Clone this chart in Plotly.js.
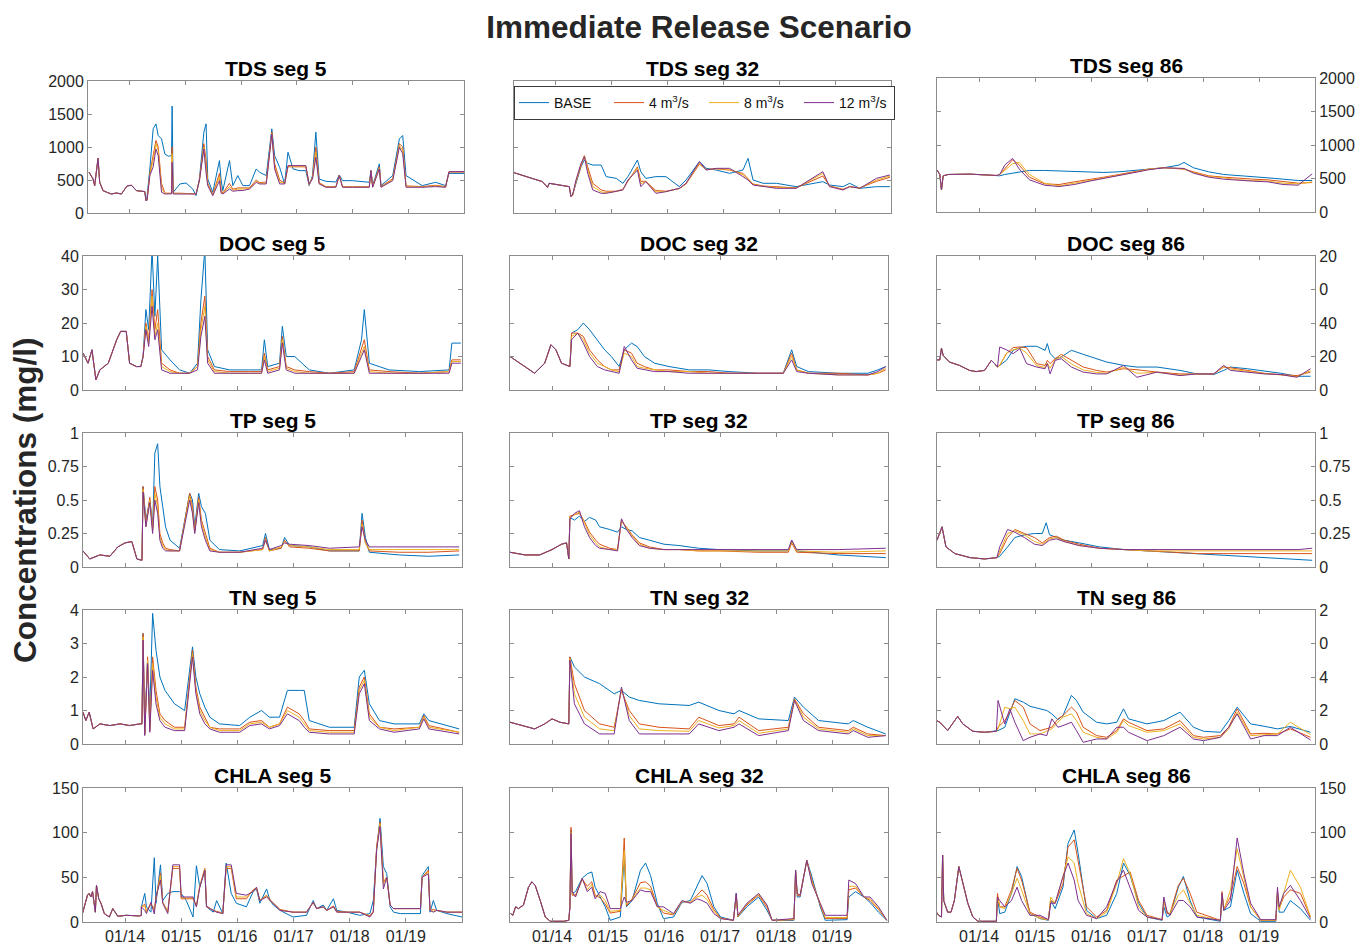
<!DOCTYPE html>
<html><head><meta charset="utf-8">
<script src="https://cdn.plot.ly/plotly-3.0.1.min.js"></script>
<style>html,body{margin:0;padding:0;background:#fff;}#chart{width:1368px;height:947px;}</style>
</head><body><div id="chart"></div>
<script>
// ---------- series names / colours ----------
const seriesNames = ['BASE','4 m<sup>3</sup>/s','8 m<sup>3</sup>/s','12 m<sup>3</sup>/s'];
const seriesColors = ['#0072BD','#D95319','#EDB120','#7E2F8E'];
const xTickVals = [2014,2015,2016,2017,2018,2019];
const xTickText = ['01/14','01/15','01/16','01/17','01/18','01/19'];

// ---------- TDS seg 5 ----------
const tds5_preT = [2013.27,2013.34,2013.37,2013.43,2013.46,2013.52,2013.60,2013.67,2013.76,2013.85,2013.95,2014.03,2014.12,2014.20,2014.27,2014.29];
const tds5_preV = [617,516,415,830,465,339,310,288,303,288,410,420,339,330,324,190];
const tds5_t = [2014.31,2014.36,2014.42,2014.47,2014.51,2014.57,2014.63,2014.69,2014.75,2014.76,2014.78,2014.90,2015.01,2015.13,2015.19,2015.25,2015.33,2015.37,2015.40,2015.49,2015.61,2015.64,2015.67,2015.79,2015.85,2015.94,2016.03,2016.15,2016.27,2016.33,2016.45,2016.55,2016.60,2016.69,2016.78,2016.84,2016.93,2017.04,2017.16,2017.22,2017.28,2017.34,2017.40,2017.52,2017.70,2017.76,2017.82,2018.00,2018.30,2018.33,2018.36,2018.48,2018.51,2018.72,2018.84,2018.90,2018.96,2019.25,2019.49,2019.67,2019.73,2020.00];
const tds5_base = [250,668,1275,1350,1174,1123,895,860,870,1620,314,440,455,364,263,516,1225,1350,516,314,794,500,339,794,415,567,415,415,668,617,567,1275,870,693,440,921,668,642,642,415,567,1225,516,480,470,577,490,490,465,642,415,744,415,567,1123,1174,567,415,465,415,600,600];
const tds5_q4 = [200,600,900,1100,1000,450,300,300,300,1000,300,300,300,300,290,500,1050,800,450,280,600,350,300,450,360,380,380,380,500,460,470,1230,750,500,450,700,700,700,700,430,540,1000,460,400,400,570,400,400,400,640,400,700,400,520,1050,1000,410,400,420,400,620,620];
const tds5_q8 = [195,580,800,1050,950,380,295,295,295,900,295,295,295,295,290,495,1000,700,430,270,550,320,295,400,345,360,360,370,480,450,455,1210,700,470,445,710,710,710,710,435,530,920,450,395,395,568,395,395,395,640,395,680,395,505,1020,950,400,395,410,395,625,625];
const tds5_q12 = [190,567,700,971,870,314,288,290,290,769,288,288,288,288,288,490,971,600,415,263,490,300,288,364,330,339,340,364,465,440,440,1199,668,440,440,718,718,718,718,440,516,845,440,390,390,567,390,390,390,642,390,668,390,490,997,900,390,390,400,390,627,627];

// ---------- TDS seg 32 ----------
const tds32_preT = [2013.25,2013.40,2013.57,2013.76,2013.85,2013.88,2014.06,2014.24,2014.27];
const tds32_preV = [611,576,525,475,389,450,424,399,248];
const tds32_t = [2014.30,2014.36,2014.45,2014.51,2014.57,2014.66,2014.81,2014.90,2015.08,2015.20,2015.29,2015.46,2015.52,2015.61,2015.79,2015.97,2016.21,2016.33,2016.57,2016.69,2016.87,2017.11,2017.35,2017.44,2017.53,2017.71,2017.95,2018.30,2018.78,2018.90,2019.14,2019.26,2019.44,2019.74,2019.98];
const tds32_base = [273,450,702,803,752,727,727,551,525,450,551,803,626,525,551,551,399,500,778,677,651,601,651,828,500,450,450,399,475,424,399,450,374,399,399];
const tds32_q4 = [273,470,720,870,700,450,350,330,330,360,480,700,480,480,340,330,370,440,740,660,670,650,600,520,440,410,400,380,560,410,360,400,380,480,540];
const tds32_q8 = [273,480,740,860,650,400,320,310,325,355,490,680,440,480,320,325,372,445,760,655,672,660,580,510,430,405,387,377,600,405,355,400,377,500,560];
const tds32_q12 = [273,500,752,853,601,349,298,298,323,349,500,651,399,475,298,323,374,450,778,651,677,677,551,500,424,399,374,374,626,399,349,399,374,525,576];

// ---------- TDS seg 86 ----------
const tds86_preT = [2013.25,2013.30,2013.33,2013.36,2013.45,2013.84,2014.19,2014.32];
const tds86_preV = [627,560,330,540,560,565,550,545];
const tds86_t = [2014.37,2014.46,2014.60,2014.72,2014.90,2015.17,2015.43,2015.70,2015.97,2016.23,2016.50,2016.77,2017.03,2017.30,2017.57,2017.66,2017.83,2018.10,2018.37,2018.63,2018.90,2019.16,2019.43,2019.70,2019.95];
const tds86_base = [540,560,580,600,620,620,610,600,590,590,600,620,640,660,700,740,660,600,560,540,520,510,490,470,470];
const tds86_q4 = [560,640,780,700,520,420,410,450,480,520,560,600,640,660,650,640,600,540,520,500,490,480,450,430,440];
const tds86_q8 = [560,620,720,740,560,430,390,430,470,510,550,590,640,660,650,640,590,530,510,480,470,460,430,420,450];
const tds86_q12 = [560,700,800,640,480,400,380,410,460,500,540,580,630,660,660,650,580,520,490,470,460,450,410,400,570];

// ---------- DOC seg 5 ----------
const doc5_preT = [2013.25,2013.34,2013.41,2013.48,2013.55,2013.70,2013.85,2013.92,2014.02,2014.08,2014.20,2014.28];
const doc5_preV = [11,8,12,3,6,8,15,17.5,17.5,8,7,7];
const doc5_t = [2014.32,2014.37,2014.42,2014.48,2014.53,2014.58,2014.65,2014.80,2014.97,2015.15,2015.29,2015.35,2015.42,2015.47,2015.59,2015.86,2016.22,2016.43,2016.48,2016.54,2016.75,2016.80,2016.87,2017.02,2017.28,2017.64,2018.08,2018.21,2018.26,2018.35,2018.70,2019.24,2019.77,2019.82,2019.98];
const doc5_base = [10,24,18,42,22,40,12,9,6,5,8,27,42,12,7,6,6,6,15,7,8,19,10,10,6,5,6,15,24,8,6,5.5,6,14,14];
const doc5_q4 = [10,20,15,30,18,24,8,6,5,5,7,20,28,10,6,5.5,5.5,5.5,11,6,7,16,7,6,5.5,5,5.5,12,15,6,5.5,5,5.5,9,9];
const doc5_q8 = [10,19,14,28,16,20,7,5.5,5,5,7,18,25,9,5.5,5,5,5,10,5.5,6.5,15,6.5,5.5,5,5,5,11,13,5.5,5,5,5.5,8.5,8.5];
const doc5_q12 = [10,18,13,25,15,18,6,5,5,5,6,16,22,8,5,5,5,5,9,5,6,14,6,5,5,5,5,10,12,5,5,5,5,8,8];

// ---------- DOC seg 32 ----------
const doc32_preT = [2013.25,2013.43,2013.69,2013.87,2013.98,2014.07,2014.17,2014.32];
const doc32_preV = [10,8,5,8,13.5,12,8,7];
const doc32_t = [2014.35,2014.46,2014.56,2014.67,2014.81,2014.94,2015.06,2015.20,2015.29,2015.42,2015.52,2015.65,2015.83,2016.09,2016.45,2016.80,2017.16,2017.69,2018.13,2018.28,2018.37,2018.58,2019.11,2019.64,2019.82,2019.96];
const doc32_base = [17,18,20,18,15,12,10,7,12,14,13,10,8,7,6,6,5.5,5,5,12,7,5.5,5,5,6,7];
const doc32_q4 = [17,17,16,12,9,7,6,6,12,11,8,7,6,6,5.5,5.5,5,5,5,11,6,5,5,4.5,5,6];
const doc32_q8 = [16,17,15,11,8,7,6,5.5,11,10,7,6.5,6,5.5,5.5,5,5,5,5,10,6,5,4.5,4.5,5,6.5];
const doc32_q12 = [15,17,14,10,7,6,5.5,5,13,9,6.5,6,5.5,5.5,5,5,5,5,5,9,5.5,5,4.5,4.5,5.5,7];

// ---------- DOC seg 86 ----------
const doc86_preT = [2013.24,2013.30,2013.33,2013.36,2013.47,2013.65,2013.83,2013.95,2014.10,2014.22,2014.28,2014.33];
const doc86_preV = [18,18,25,20.7,16.7,14.7,11.7,11,11.7,17.7,15.7,13.7];
const doc86_t = [2014.37,2014.49,2014.61,2014.73,2014.85,2015.03,2015.18,2015.22,2015.27,2015.36,2015.47,2015.65,2015.86,2016.10,2016.28,2016.58,2016.82,2017.18,2017.59,2017.89,2018.19,2018.37,2018.49,2018.79,2019.09,2019.39,2019.68,2019.92];
const doc86_base = [14.7,17.7,23.7,25.3,26.1,26.1,23.7,27.7,21.7,18.7,19.7,23.7,21.3,18.7,16.7,14.7,13.7,13.7,11.7,9.6,9.2,11.7,13.7,12.7,11.3,10,8.2,8.2];
const doc86_q4 = [14.7,21.7,25.3,25.7,25.3,15.7,14.7,17.7,15.7,18.7,21.3,17.7,13.7,11.7,10.7,12.7,12.1,10.7,9.6,9.6,9.6,13.7,13.3,11.7,10,9.2,8.6,10.7];
const doc86_q8 = [14.7,22,24,25,22,14.5,13.5,16,13,18,20,15.5,12,10.5,10,13.5,10,10.5,9,9.6,9.6,14,12.5,11.2,9.8,9,8,11.5];
const doc86_q12 = [25.7,24,21.7,24.7,15.7,13.7,12.7,15.7,9.6,17.7,18.7,13.7,10.7,9.6,9.6,14.7,7.6,10.7,8.6,9.6,9.6,14.7,11.7,10.7,9.6,9.2,7.6,12.7];

// ---------- TP seg 5 ----------
const tp5_preT = [2013.25,2013.37,2013.55,2013.73,2013.87,2014.00,2014.12,2014.21,2014.30];
const tp5_preV = [0.12,0.06,0.09,0.08,0.15,0.18,0.19,0.06,0.05];
const tp5_t = [2014.32,2014.37,2014.44,2014.49,2014.53,2014.58,2014.62,2014.67,2014.72,2014.80,2014.97,2015.15,2015.20,2015.24,2015.31,2015.36,2015.43,2015.51,2015.68,2016.04,2016.45,2016.50,2016.57,2016.78,2016.84,2016.93,2017.28,2017.64,2018.17,2018.22,2018.28,2018.35,2018.88,2019.41,2019.95];
const tp5_base = [0.6,0.35,0.5,0.3,0.85,0.92,0.6,0.45,0.3,0.2,0.14,0.55,0.5,0.3,0.55,0.45,0.4,0.2,0.13,0.12,0.16,0.25,0.13,0.14,0.22,0.16,0.15,0.12,0.12,0.4,0.22,0.11,0.09,0.08,0.09];
const tp5_q4 = [0.6,0.32,0.52,0.28,0.6,0.5,0.25,0.18,0.14,0.13,0.12,0.55,0.45,0.27,0.52,0.35,0.25,0.14,0.11,0.11,0.13,0.22,0.12,0.14,0.2,0.15,0.14,0.12,0.12,0.35,0.18,0.12,0.11,0.11,0.12];
const tp5_q8 = [0.58,0.3,0.5,0.27,0.55,0.45,0.22,0.16,0.13,0.12,0.12,0.53,0.42,0.26,0.5,0.33,0.22,0.13,0.11,0.11,0.13,0.2,0.12,0.15,0.19,0.16,0.15,0.13,0.13,0.32,0.18,0.13,0.13,0.13,0.13];
const tp5_q12 = [0.56,0.3,0.48,0.25,0.5,0.4,0.2,0.14,0.12,0.12,0.12,0.5,0.4,0.25,0.48,0.3,0.2,0.12,0.11,0.11,0.14,0.2,0.13,0.16,0.18,0.17,0.16,0.14,0.15,0.3,0.2,0.15,0.15,0.15,0.15];

// ---------- TP seg 32 ----------
const tp32_preT = [2013.25,2013.52,2013.78,2014.00,2014.17,2014.26,2014.30];
const tp32_preV = [0.11,0.09,0.09,0.13,0.17,0.18,0.06];
const tp32_t = [2014.32,2014.40,2014.49,2014.58,2014.67,2014.78,2014.85,2015.03,2015.17,2015.24,2015.33,2015.43,2015.56,2015.74,2016.00,2016.27,2016.62,2016.98,2017.69,2018.22,2018.28,2018.37,2019.11,2019.96];
const tp32_base = [0.37,0.35,0.38,0.34,0.37,0.35,0.3,0.28,0.26,0.3,0.28,0.27,0.22,0.2,0.17,0.16,0.14,0.13,0.12,0.12,0.2,0.12,0.09,0.07];
const tp32_q4 = [0.38,0.39,0.4,0.34,0.26,0.2,0.17,0.14,0.13,0.34,0.3,0.24,0.18,0.15,0.13,0.13,0.12,0.12,0.11,0.11,0.18,0.11,0.1,0.1];
const tp32_q8 = [0.37,0.39,0.41,0.33,0.24,0.18,0.15,0.13,0.13,0.35,0.29,0.23,0.17,0.14,0.13,0.13,0.12,0.12,0.12,0.12,0.19,0.12,0.11,0.12];
const tp32_q12 = [0.36,0.4,0.42,0.3,0.22,0.16,0.14,0.13,0.12,0.36,0.28,0.22,0.16,0.14,0.13,0.13,0.13,0.13,0.13,0.13,0.2,0.13,0.13,0.14];

// ---------- TP seg 86 ----------
const tp86_preT = [2013.25,2013.30,2013.34,2013.41,2013.57,2013.84,2014.10,2014.32];
const tp86_preV = [0.2,0.25,0.3,0.15,0.1,0.07,0.06,0.07];
const tp86_t = [2014.37,2014.51,2014.64,2014.81,2014.99,2015.13,2015.20,2015.26,2015.38,2015.52,2015.79,2016.15,2016.59,2017.03,2017.48,2017.92,2018.37,2018.81,2019.25,2019.70,2019.95];
const tp86_base = [0.08,0.15,0.22,0.24,0.25,0.25,0.33,0.24,0.22,0.2,0.18,0.15,0.13,0.12,0.11,0.1,0.09,0.08,0.07,0.06,0.05];
const tp86_q4 = [0.1,0.22,0.28,0.25,0.22,0.18,0.2,0.22,0.23,0.2,0.17,0.14,0.13,0.12,0.11,0.1,0.1,0.1,0.1,0.1,0.1];
const tp86_q8 = [0.12,0.25,0.27,0.24,0.19,0.17,0.19,0.21,0.22,0.19,0.16,0.14,0.13,0.12,0.12,0.12,0.12,0.12,0.12,0.12,0.12];
const tp86_q12 = [0.15,0.28,0.26,0.22,0.17,0.16,0.18,0.2,0.21,0.19,0.16,0.14,0.13,0.13,0.13,0.13,0.13,0.13,0.13,0.13,0.14];

// ---------- TN seg 5 ----------
const tn5_preT = [2013.25,2013.30,2013.36,2013.43,2013.55,2013.73,2013.91,2014.08,2014.26,2014.30];
const tn5_preV = [0.95,0.7,0.95,0.45,0.6,0.55,0.6,0.55,0.6,0.6];
const tn5_t = [2014.32,2014.35,2014.40,2014.44,2014.49,2014.55,2014.62,2014.71,2014.88,2015.06,2015.20,2015.26,2015.33,2015.42,2015.51,2015.68,2016.04,2016.22,2016.43,2016.57,2016.75,2016.89,2017.10,2017.19,2017.28,2017.64,2018.08,2018.17,2018.26,2018.35,2018.53,2018.79,2019.24,2019.32,2019.41,2019.95];
const tn5_base = [3.3,0.5,2.5,1.0,3.9,2.8,2.0,1.6,1.2,1.0,2.9,2.0,1.5,1.1,0.8,0.6,0.55,0.8,1.0,0.8,0.8,1.6,1.6,1.6,0.7,0.5,0.5,2.0,2.2,1.2,0.7,0.6,0.6,0.9,0.7,0.45];
const tn5_q4 = [3.3,0.3,2.6,0.5,2.6,1.6,0.9,0.7,0.5,0.5,2.8,1.7,1.1,0.8,0.5,0.45,0.45,0.65,0.7,0.5,0.6,1.1,0.9,0.7,0.45,0.4,0.4,1.7,2.0,0.9,0.5,0.45,0.5,0.85,0.55,0.35];
const tn5_q8 = [3.2,0.3,2.5,0.4,2.4,1.4,0.8,0.6,0.45,0.45,2.7,1.6,1.0,0.7,0.5,0.4,0.4,0.6,0.65,0.5,0.6,1.0,0.8,0.6,0.4,0.35,0.35,1.6,1.9,0.8,0.5,0.4,0.5,0.8,0.5,0.35];
const tn5_q12 = [3.1,0.25,2.4,0.35,2.2,1.2,0.7,0.5,0.4,0.4,2.6,1.5,0.9,0.6,0.45,0.35,0.35,0.55,0.6,0.45,0.55,0.9,0.7,0.5,0.35,0.3,0.3,1.5,1.8,0.7,0.45,0.35,0.45,0.75,0.45,0.3];

// ---------- TN seg 32 ----------
const tn32_preT = [2013.25,2013.46,2013.69,2013.87,2014.00,2014.14,2014.30];
const tn32_preV = [0.65,0.55,0.45,0.6,0.75,0.65,0.6];
const tn32_t = [2014.32,2014.40,2014.58,2014.85,2015.11,2015.24,2015.38,2015.56,2015.91,2016.45,2016.62,2016.98,2017.25,2017.34,2017.69,2018.22,2018.33,2018.49,2018.76,2019.29,2019.38,2019.64,2019.96];
const tn32_base = [2.6,2.3,2.0,1.8,1.5,1.6,1.4,1.3,1.2,1.15,1.25,1.0,0.9,1.0,0.75,0.7,1.4,1.1,0.7,0.6,0.7,0.5,0.3];
const tn32_q4 = [2.6,1.8,1.0,0.6,0.5,1.6,1.0,0.6,0.5,0.45,0.8,0.55,0.6,0.8,0.4,0.5,1.35,0.9,0.5,0.4,0.5,0.3,0.25];
const tn32_q8 = [2.55,1.5,0.8,0.45,0.4,1.65,0.85,0.45,0.4,0.38,0.7,0.48,0.55,0.7,0.32,0.45,1.32,0.8,0.45,0.35,0.45,0.25,0.25];
const tn32_q12 = [2.5,1.2,0.6,0.3,0.3,1.7,0.7,0.3,0.3,0.3,0.6,0.4,0.5,0.6,0.25,0.4,1.3,0.7,0.4,0.3,0.4,0.2,0.25];

// ---------- TN seg 86 ----------
const tn86_preT = [2013.24,2013.30,2013.44,2013.62,2013.71,2013.89,2014.10,2014.31];
const tn86_preV = [1.4,1.3,0.8,1.65,1.2,0.76,0.7,0.76];
const tn86_t = [2014.34,2014.46,2014.55,2014.64,2014.79,2014.91,2015.09,2015.21,2015.30,2015.41,2015.50,2015.65,2015.74,2015.86,2016.10,2016.28,2016.46,2016.58,2016.67,2017.00,2017.30,2017.59,2017.83,2018.01,2018.31,2018.46,2018.61,2018.85,2019.09,2019.33,2019.56,2019.92];
const tn86_base = [0.8,1.0,1.9,2.7,2.5,2.25,2.1,2.0,1.8,1.45,1.7,2.9,2.6,1.9,1.3,1.2,1.3,2.1,1.5,1.2,1.4,1.9,1.0,0.76,0.7,1.4,2.2,1.2,1.06,0.9,1.05,0.7];
const tn86_q4 = [1.0,1.4,1.9,2.6,2.2,1.2,0.8,0.9,1.0,1.5,1.7,2.2,1.9,1.0,0.5,0.4,0.8,1.5,1.3,0.8,0.9,1.4,0.5,0.4,0.5,1.0,2.1,0.6,0.64,0.6,0.9,0.4];
const tn86_q8 = [0.9,2.2,2.1,2.2,1.4,0.6,0.6,0.8,0.9,1.3,1.6,1.8,1.4,0.7,0.4,0.3,0.7,1.4,1.1,0.7,0.8,1.2,0.4,0.3,0.4,0.9,1.9,0.5,0.56,0.6,1.3,0.56];
const tn86_q12 = [2.6,1.2,2.1,1.3,0.2,0.4,0.6,0.5,1.5,1.0,1.1,1.3,0.8,0.1,0.3,0.3,1.0,1.0,0.7,0.2,0.5,1.0,0.3,0.2,0.4,1.0,1.8,0.3,0.5,0.5,1.0,0.24];

// ---------- CHLA seg 5 ----------
const chla5_preT = [2013.24,2013.30,2013.33,2013.36,2013.39,2013.42,2013.45,2013.47,2013.49,2013.53,2013.57,2013.63,2013.72,2013.78,2013.87,2014.02,2014.26,2014.29];
const chla5_preV = [9.4,24,30,32,28,34,22,11,41,26,21,9.4,5.6,15,6.4,7.5,6.8,7.5];
const chla5_t = [2014.29,2014.35,2014.38,2014.46,2014.52,2014.55,2014.63,2014.67,2014.76,2014.85,2014.97,2015.00,2015.09,2015.21,2015.27,2015.33,2015.42,2015.45,2015.57,2015.63,2015.74,2015.80,2015.89,2015.98,2016.16,2016.28,2016.34,2016.40,2016.52,2016.58,2016.64,2016.76,2016.99,2017.23,2017.35,2017.41,2017.53,2017.59,2017.71,2017.77,2017.95,2018.18,2018.36,2018.42,2018.48,2018.54,2018.60,2018.66,2018.72,2018.78,2018.90,2019.26,2019.29,2019.40,2019.43,2019.49,2019.55,2019.73,2020.00];
const chla5_base = [17,32,17,11,72,21,64,24,32,34,34,32,24,5.6,63,39,58,17,11,24,9.4,66,32,21,17,34,37,21,37,24,19,13,5.6,7.5,24,15,19,13,26,13,11,7.5,9.4,24,81,116,62,54,17,11,9.4,9.4,52,62,11,24,13,9.4,5.6];
const chla5_q4 = [17,20,12,20,15,26,55,22,12,60,60,26,26,26,18,40,60,18,13,12,10,60,60,26,26,36,38,24,30,25,21,14,11,11,22,15,17,13,18,12,11,11,7,12,85,112,45,50,19,15,15,15,50,58,13,14,13,11,11];
const chla5_q8 = [17,18,11,21,12,27,52,22,11,62,62,27,27,27,17,40,59,17,13,11,10,62,62,28,28,35,38,24,29,24,21,13,11,11,22,15,17,13,17,11,11,11,6,11,82,110,42,50,19,15,15,15,50,56,13,12,13,11,11];
const chla5_q12 = [17,13,9.4,22,9,28,47,21,9.4,64,64,28,28,28,17,39,58,17,13,11,9.4,64,64,32,30,34,39,24,28,24,21,13,11,11,22,15,17,13,17,11,11,11,5.6,11,81,107,37,50,19,15,15,15,50,54,13,11,13,11,11];

// ---------- CHLA seg 32 ----------
const chla32_preT = [2013.26,2013.30,2013.35,2013.40,2013.49,2013.58,2013.64,2013.70,2013.79,2013.88,2013.97,2014.21,2014.30];
const chla32_preV = [9.4,7.5,17,15,19,39,45,41,24,5.6,0.8,0.8,1.9];
const chla32_t = [2014.32,2014.34,2014.36,2014.42,2014.54,2014.63,2014.71,2014.77,2014.86,2014.95,2015.04,2015.22,2015.29,2015.33,2015.43,2015.58,2015.67,2015.76,2015.88,2015.99,2016.17,2016.32,2016.47,2016.59,2016.68,2016.77,2016.89,2017.01,2017.24,2017.29,2017.32,2017.48,2017.69,2017.84,2017.93,2018.32,2018.35,2018.38,2018.43,2018.55,2018.64,2018.79,2018.88,2019.27,2019.30,2019.42,2019.57,2019.68,2019.83,2019.98];
const chla32_base = [17,103,32,34,49,54,56,39,28,17,1.9,5.6,73,17,24,58,66,52,21,3.8,5.6,22,24,39,52,43,17,5.6,1.9,32,5.6,17,28,13,1.9,1.9,58,28,28,69,51,17,1.9,2.6,28,34,28,22,11,1.9];
const chla32_q4 = [17,106,30,30,48,40,45,30,27,20,10,12,94,18,26,44,45,40,18,10,8,23,22,30,36,30,14,4.5,1.9,30,6,19,30,16,1.9,2.5,56,30,29,69,47,19,4,4,36,38,28,24,14,1.9];
const chla32_q8 = [17,100,32,29,48,36,42,28,30,24,12,13,80,20,25,38,38,36,17,13,8.5,23,22,28,30,25,12,4,1.9,30,6.5,20,31,18,1.9,3,57,31,30,69,45,20,5,5,40,40,28,26,15,1.9];
const chla32_q12 = [17,99,34,28,49,34,39,26,34,32,15,15,28,22,24,36,34,34,17,17,9.4,24,21,26,24,21,9.4,3.8,1.9,32,7.5,21,32,19,1.9,3.8,58,32,30,69,43,21,7.5,7.5,47,43,28,28,17,1.9];

// ---------- CHLA seg 86 ----------
const chla86_preT = [2013.24,2013.28,2013.33,2013.35,2013.37,2013.44,2013.50,2013.56,2013.64,2013.71,2013.80,2013.89,2013.98,2014.31];
const chla86_preV = [11,7.5,5.6,75,24,11,11,24,62,43,21,5.6,0.8,0.8];
const chla86_t = [2014.33,2014.37,2014.46,2014.58,2014.68,2014.76,2014.91,2015.09,2015.24,2015.28,2015.36,2015.50,2015.59,2015.70,2015.77,2015.92,2016.10,2016.28,2016.46,2016.58,2016.70,2016.85,2017.00,2017.27,2017.30,2017.36,2017.41,2017.56,2017.65,2017.77,2017.89,2018.31,2018.34,2018.37,2018.49,2018.61,2018.73,2018.85,2019.03,2019.30,2019.33,2019.36,2019.44,2019.56,2019.74,2019.92];
const chla86_base = [28,9.4,11,32,62,51,9.4,3.8,1.9,24,15,39,88,103,77,13,3.8,7.5,32,66,52,21,5.6,1.9,17,5.6,7.5,39,51,24,5.6,0.8,32,13,17,58,32,9.4,0.8,0.8,32,11,11,24,15,1.9];
const chla86_q4 = [32,17,17,36,60,47,11,5.6,2.6,24,21,43,84,92,69,17,5.6,13,47,52,56,24,7.5,2.6,24,9.4,9.4,41,49,32,11,1.9,34,15,28,62,43,17,1.9,1.9,34,15,28,36,32,5.6];
const chla86_q8 = [28,17,15,32,49,36,9.4,3.8,2.6,28,21,51,73,66,43,9.4,3.8,11,43,71,54,17,5.6,2.6,24,11,9.4,30,36,21,7.5,1.9,32,13,36,82,51,17,1.9,1.9,32,13,32,58,39,5.6];
const chla86_q12 = [28,24,17,24,39,24,7.5,7.5,2.6,21,21,51,66,47,24,7.5,3.8,17,45,58,39,13,5.6,2.6,28,11,7.5,24,24,17,5.6,1.9,32,13,24,94,54,21,2.6,2.6,39,17,32,41,24,3.8];

// ---------- panel titles and y tick labels ----------
const panelTitles = ['TDS seg 5','TDS seg 32','TDS seg 86','DOC seg 5','DOC seg 32','DOC seg 86','TP seg 5','TP seg 32','TP seg 86','TN seg 5','TN seg 32','TN seg 86','CHLA seg 5','CHLA seg 32','CHLA seg 86'];
const tdsTicks = [0,500,1000,1500,2000];
const docTicks = [0,10,20,30,40];
const doc86Ticks = [0,20,40,60,80];
const doc86TickText = ['0','20','40','0','20'];
const tpTicks = [0,0.25,0.5,0.75,1];
const tpTickText = ['0','0.25','0.5','0.75','1'];
const tnTicks = [0,1,2,3,4];
const tn86Ticks = [0,2,4,6,8];
const tn86TickText = ['0','2','4','0','2'];
const chlaTicks = [0,50,100,150];

// ---------- assemble ----------
const panels = [
  [tds5_preT,tds5_preV,tds5_t,[tds5_base,tds5_q4,tds5_q8,tds5_q12]],
  [tds32_preT,tds32_preV,tds32_t,[tds32_base,tds32_q4,tds32_q8,tds32_q12]],
  [tds86_preT,tds86_preV,tds86_t,[tds86_base,tds86_q4,tds86_q8,tds86_q12]],
  [doc5_preT,doc5_preV,doc5_t,[doc5_base,doc5_q4,doc5_q8,doc5_q12]],
  [doc32_preT,doc32_preV,doc32_t,[doc32_base,doc32_q4,doc32_q8,doc32_q12]],
  [doc86_preT,doc86_preV,doc86_t,[doc86_base,doc86_q4,doc86_q8,doc86_q12]],
  [tp5_preT,tp5_preV,tp5_t,[tp5_base,tp5_q4,tp5_q8,tp5_q12]],
  [tp32_preT,tp32_preV,tp32_t,[tp32_base,tp32_q4,tp32_q8,tp32_q12]],
  [tp86_preT,tp86_preV,tp86_t,[tp86_base,tp86_q4,tp86_q8,tp86_q12]],
  [tn5_preT,tn5_preV,tn5_t,[tn5_base,tn5_q4,tn5_q8,tn5_q12]],
  [tn32_preT,tn32_preV,tn32_t,[tn32_base,tn32_q4,tn32_q8,tn32_q12]],
  [tn86_preT,tn86_preV,tn86_t,[tn86_base,tn86_q4,tn86_q8,tn86_q12]],
  [chla5_preT,chla5_preV,chla5_t,[chla5_base,chla5_q4,chla5_q8,chla5_q12]],
  [chla32_preT,chla32_preV,chla32_t,[chla32_base,chla32_q4,chla32_q8,chla32_q12]],
  [chla86_preT,chla86_preV,chla86_t,[chla86_base,chla86_q4,chla86_q8,chla86_q12]]
];

const rowY = [
  {range:[0,2000], vals:tdsTicks},
  {range:[0,40], vals:docTicks, r3:[0,80], vals3:doc86Ticks, text3:doc86TickText},
  {range:[0,1], vals:tpTicks, text:tpTickText},
  {range:[0,4], vals:tnTicks, r3:[0,8], vals3:tn86Ticks, text3:tn86TickText},
  {range:[0,150], vals:chlaTicks}
];

const W = 1368, H = 947;
const colPx = [[83,462],[510,888],[937,1315]];
const topColPx = [[88,464],[514,891],[937,1315]];
const rowPx = [[81,213],[256,390],[433,567],[610,744],[788,922]];
const topRowPx3 = [78,212];

const FONT = 'Liberation Sans, Arial, Helvetica, sans-serif';
const traces = [];
const layout = {
  width: W, height: H,
  margin: {l:0, r:0, t:0, b:0},
  paper_bgcolor: '#fff', plot_bgcolor: '#fff',
  font: {family: FONT, size: 16, color: '#262626'},
  showlegend: true,
  title: {text: '<b>Immediate Release Scenario</b>', x: 699/W, xanchor: 'center', y: 1-27/H, yanchor: 'middle',
          font: {family: FONT, size: 31.5, color: '#262626'}},
  legend: {orientation: 'h', x: 514/W, y: 1-86/H, xanchor: 'left', yanchor: 'top',
           bgcolor: '#fff', bordercolor: '#3a3a3a', borderwidth: 1,
           font: {family: FONT, size: 14, color: '#111'}, entrywidth: 50, entrywidthmode: 'pixels',
           tracegroupgap: 0, itemwidth: 30},
  annotations: []
};

panels.forEach((p, i) => {
  const r = Math.floor(i/3), c = i%3;
  const n = i+1;
  const xa = 'x' + (n===1 ? '' : n), ya = 'y' + (n===1 ? '' : n);
  const xp = (r===0 ? topColPx[c] : colPx[c]);
  const yp = (r===0 && c===2) ? topRowPx3 : rowPx[r];
  const [preT, preV, t, ss] = p;
  ss.forEach((s, k) => {
    traces.push({
      type: 'scatter', mode: 'lines',
      x: preT.concat(t), y: preV.concat(s),
      xaxis: xa, yaxis: ya,
      name: seriesNames[k], legendgroup: 'g'+k, showlegend: i===0,
      line: {color: seriesColors[k], width: 1},
      hoverinfo: 'skip'
    });
  });
  const ry = rowY[r];
  const useAlt = (c===2 && ry.r3);
  const common = {showline: true, linecolor: '#8c8c8c', linewidth: 1, mirror: 'allticks',
                  ticks: 'inside', ticklen: 4, tickcolor: '#8c8c8c', showgrid: false, zeroline: false,
                  tickfont: {family: FONT, size: 16, color: '#262626'}, fixedrange: true};
  const xax = Object.assign({}, common, {
    domain: [xp[0]/W, xp[1]/W], anchor: ya, range: [2013.25, 2020.0],
    tickmode: 'array', tickvals: xTickVals
  });
  if (r === 4) { xax.ticktext = xTickText; xax.showticklabels = true; }
  else { xax.showticklabels = false; }
  layout['xaxis' + (n===1?'':n)] = xax;
  const yax = Object.assign({}, common, {
    domain: [1 - yp[1]/H, 1 - yp[0]/H], anchor: xa,
    range: useAlt ? ry.r3 : ry.range,
    tickmode: 'array', tickvals: useAlt ? ry.vals3 : ry.vals,
    side: c===2 ? 'right' : 'left'
  });
  if (c !== 1) { yax.ticktext = useAlt ? ry.text3 : (ry.text || ry.vals.map(String)); yax.showticklabels = true; }
  else { yax.showticklabels = false; }
  layout['yaxis' + (n===1?'':n)] = yax;
  layout.annotations.push({
    text: '<b>' + panelTitles[i] + '</b>', xref: 'paper', yref: 'paper',
    x: (xp[0]+xp[1])/2/W, y: 1 - yp[0]/H, xanchor: 'center', yanchor: 'bottom', yshift: -1,
    showarrow: false, font: {family: FONT, size: 21, color: '#000'}
  });
});

layout.annotations.push({
  text: '<b>Concentrations (mg/l)</b>', xref: 'paper', yref: 'paper', x: 25/W, y: 1-500/H,
  xanchor: 'center', yanchor: 'middle', textangle: -90, showarrow: false,
  font: {family: FONT, size: 31.5, color: '#262626'}
});

Plotly.newPlot('chart', traces, layout, {staticPlot: true, displayModeBar: false});
</script>
</body></html>
